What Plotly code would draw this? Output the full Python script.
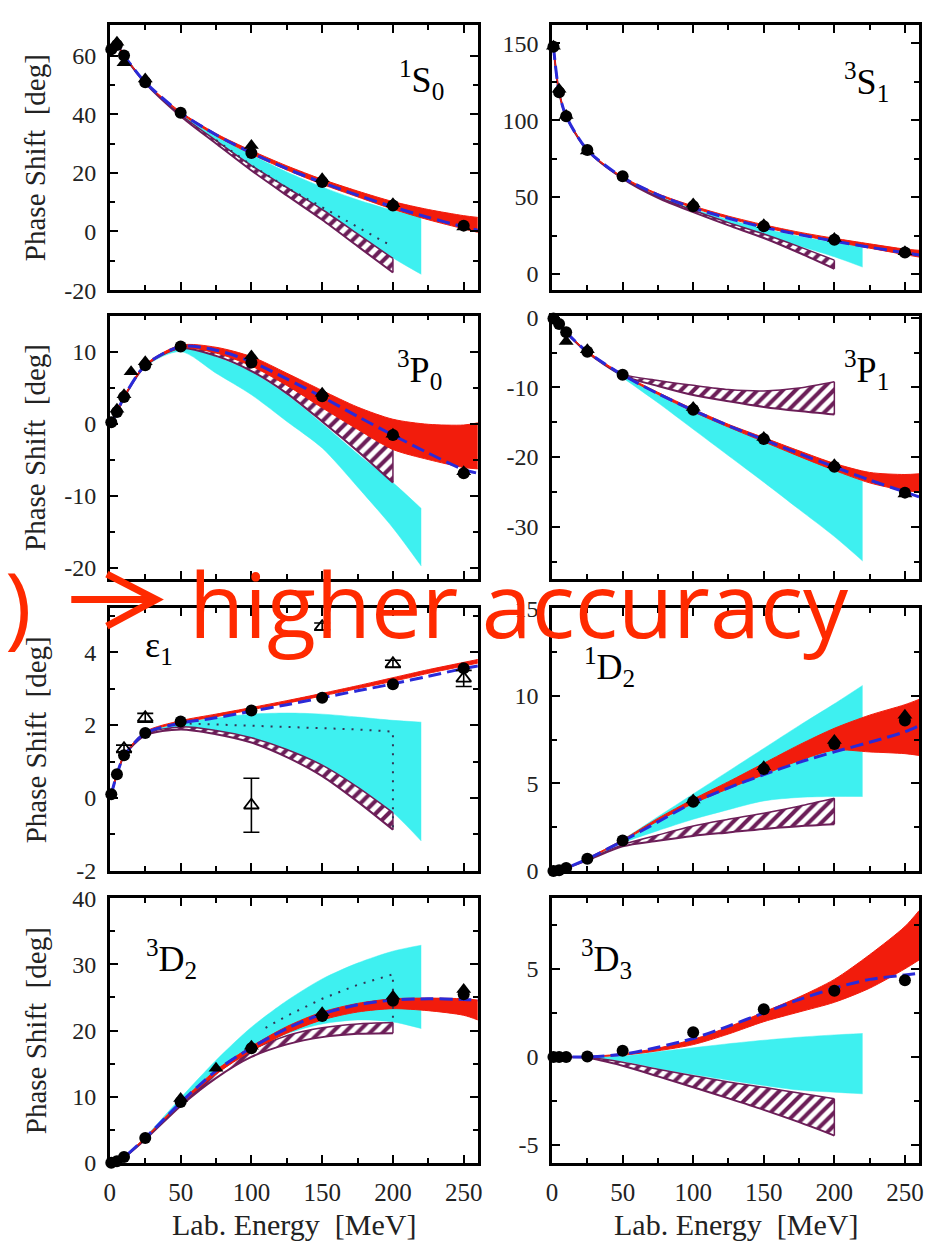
import plotly.graph_objects as go

W, H = 927, 1257

# ---------------------------------------------------------------- energies [MeV]
E_DATA = [1, 5, 10, 25, 50, 100, 150, 200, 250]
E_HATCH = [1, 5, 10, 25, 50, 75, 100, 125, 150, 175, 200]
E_CYAN = [1, 5, 10, 25, 50, 75, 100, 125, 150, 175, 200, 220]
E_RED = [1, 5, 10, 25, 50, 75, 100, 125, 150, 175, 200, 225, 250, 260]

X_TICKS = [0, 50, 100, 150, 200, 250]
X_TICK_TEXT = ["0", "50", "100", "150", "200", "250"]
X_MINOR = [25, 75, 125, 175, 225]

# ---------------------------------------------------------------- 1S0
S1S0_HATCH_LO = [62.1, 63.5, 59.9, 50.6, 39.3, 30.0, 20.8, 12.3, 4.0, -5.0, -14.0]
S1S0_HATCH_HI = [62.1, 63.6, 60.0, 50.8, 39.8, 31.0, 22.5, 15.0, 7.5, -0.8, -9.2]
S1S0_CYAN_LO = [62.1, 63.5, 59.9, 50.7, 39.6, 30.8, 22.4, 14.8, 7.2, -1.0, -9.0, -14.6]
S1S0_CYAN_HI = [62.1, 63.6, 60.0, 50.9, 40.3, 32.8, 26.2, 20.3, 15.2, 10.8, 7.2, 5.2]
S1S0_RED_LO = [62.0, 63.5, 59.9, 50.8, 40.3, 32.6, 26.4, 21.0, 16.1, 11.8, 7.6, 4.0, 0.9, -0.3]
S1S0_RED_HI = [62.2, 63.7, 60.1, 51.0, 40.8, 33.4, 27.6, 22.4, 17.8, 13.8, 10.2, 7.5, 5.4, 4.8]
S1S0_DASH = [62.1, 63.6, 60.0, 50.9, 40.5, 33.0, 26.8, 21.4, 16.7, 12.4, 8.4, 4.8, 1.6, 0.4]
S1S0_DOT_E = [75, 100, 125, 150, 175, 200]
S1S0_DOT = [31.2, 22.6, 15.0, 8.2, 1.6, -5.2]
S1S0_PTS = [62.1, 63.6, 60.0, 50.9, 40.5, 26.8, 16.9, 8.9, 2.0]
S1S0_TRI_E = [5, 10, 25, 100, 150, 200, 250]
S1S0_TRI = [64.5, 57.5, 52.0, 29.3, 18.0, 9.5, 1.5]

# ---------------------------------------------------------------- 3S1
S3S1_HATCH_LO = [147.5, 118.0, 102.4, 80.3, 62.0, 49.5, 40.2, 31.6, 23.4, 13.8, 3.4]
S3S1_HATCH_HI = [147.7, 118.2, 102.6, 80.6, 62.3, 50.2, 41.4, 33.4, 26.0, 17.8, 9.0]
S3S1_CYAN_LO = [147.5, 118.0, 102.4, 80.4, 62.2, 49.8, 40.5, 32.4, 25.2, 18.2, 11.2, 4.5]
S3S1_CYAN_HI = [147.7, 118.2, 102.6, 80.6, 62.6, 51.0, 42.4, 35.4, 29.6, 24.6, 20.5, 17.8]
S3S1_RED_LO = [147.5, 118.0, 102.4, 80.4, 62.6, 51.4, 43.0, 36.2, 30.4, 25.4, 21.0, 16.8, 12.6, 11.0]
S3S1_RED_HI = [147.9, 118.4, 102.8, 80.8, 63.2, 52.2, 44.2, 37.6, 32.0, 27.2, 23.2, 19.6, 16.2, 15.4]
S3S1_DASH = [147.7, 118.2, 102.6, 80.6, 62.8, 51.5, 43.0, 36.2, 30.4, 25.6, 21.4, 17.4, 13.8, 12.4]
S3S1_PTS = [147.7, 118.2, 102.6, 80.6, 63.5, 44.0, 31.0, 22.3, 14.0]
S3S1_TRI_E = [1, 5, 10, 25, 100, 150, 200, 250]
S3S1_TRI = [148.0, 120.0, 103.0, 80.0, 45.5, 32.0, 23.0, 14.5]

# ---------------------------------------------------------------- 3P0
S3P0_HATCH_LO = [0.1, 1.5, 3.6, 8.0, 10.5, 9.4, 7.3, 4.2, 0.3, -3.8, -8.2]
S3P0_HATCH_HI = [0.2, 1.6, 3.7, 8.1, 10.7, 10.0, 8.2, 6.0, 3.4, 0.0, -3.6]
S3P0_CYAN_LO = [0.1, 1.5, 3.6, 7.9, 10.0, 7.0, 4.0, 0.3, -3.4, -8.8, -14.5, -19.8]
S3P0_CYAN_HI = [0.2, 1.6, 3.7, 8.1, 10.6, 9.3, 7.2, 4.0, 0.0, -4.2, -8.2, -11.8]
S3P0_RED_LO = [0.1, 1.5, 3.6, 8.0, 10.5, 9.8, 8.0, 5.3, 2.2, -0.8, -3.6, -5.0, -6.1, -6.3]
S3P0_RED_HI = [0.3, 1.7, 3.8, 8.2, 10.9, 10.6, 9.3, 7.0, 4.6, 2.3, 0.6, -0.1, -0.2, 0.1]
S3P0_DASH = [0.2, 1.6, 3.7, 8.1, 10.7, 10.2, 8.6, 6.2, 3.7, 1.0, -1.6, -4.1, -6.4, -6.9]
S3P0_PTS = [0.18, 1.6, 3.7, 8.1, 10.7, 8.5, 3.8, -1.6, -6.9]
S3P0_TRI_E = [5, 10, 15, 25, 100, 150, 200, 250]
S3P0_TRI = [2.0, 4.0, 7.2, 8.6, 9.4, 4.2, -1.5, -6.7]

# ---------------------------------------------------------------- 3P1
S3P1_HATCH_LO = [-0.1, -0.9, -2.1, -5.0, -8.3, -9.8, -11.1, -12.0, -12.8, -13.4, -13.9]
S3P1_HATCH_HI = [-0.1, -0.9, -2.1, -4.9, -8.1, -9.0, -9.7, -10.3, -10.5, -10.1, -9.2]
S3P1_CYAN_LO = [-0.1, -0.9, -2.1, -5.0, -8.6, -12.2, -16.0, -19.8, -23.6, -27.5, -31.4, -34.9]
S3P1_CYAN_HI = [-0.1, -0.9, -2.1, -4.9, -8.3, -10.9, -13.4, -15.6, -17.7, -19.7, -21.7, -23.5]
S3P1_RED_LO = [-0.1, -0.9, -2.1, -5.0, -8.3, -11.0, -13.5, -15.7, -17.8, -19.9, -21.9, -23.7, -24.8, -25.0]
S3P1_RED_HI = [-0.1, -0.9, -2.1, -4.8, -8.1, -10.7, -13.1, -15.3, -17.2, -19.1, -20.9, -22.2, -22.5, -22.4]
S3P1_DASH = [-0.1, -0.9, -2.1, -4.9, -8.2, -10.9, -13.3, -15.5, -17.5, -19.5, -21.4, -23.3, -25.0, -25.7]
S3P1_PTS = [-0.1, -0.9, -2.1, -4.9, -8.2, -13.2, -17.4, -21.4, -25.1]
S3P1_TRI_E = [10, 25, 100, 150, 200, 250]
S3P1_TRI = [-3.4, -4.6, -12.9, -17.2, -21.1, -25.3]

# ---------------------------------------------------------------- epsilon_1
SE1_HATCH_LO = [0.1, 0.65, 1.15, 1.72, 1.88, 1.75, 1.52, 1.12, 0.6, -0.1, -0.87]
SE1_HATCH_HI = [0.1, 0.65, 1.15, 1.75, 1.95, 1.85, 1.65, 1.33, 0.9, 0.3, -0.4]
SE1_CYAN_LO = [0.1, 0.65, 1.15, 1.75, 1.95, 1.85, 1.65, 1.33, 0.9, 0.3, -0.4, -1.18]
SE1_CYAN_HI = [0.1, 0.65, 1.15, 1.78, 2.05, 2.2, 2.3, 2.33, 2.3, 2.22, 2.13, 2.08]
SE1_RED_LO = [0.1, 0.65, 1.15, 1.78, 2.07, 2.23, 2.42, 2.6, 2.8, 3.0, 3.2, 3.42, 3.62, 3.7]
SE1_RED_HI = [0.12, 0.68, 1.18, 1.82, 2.12, 2.3, 2.48, 2.67, 2.87, 3.08, 3.3, 3.52, 3.72, 3.8]
SE1_DASH = [0.1, 0.65, 1.15, 1.78, 2.05, 2.2, 2.38, 2.56, 2.75, 2.94, 3.13, 3.34, 3.55, 3.62]
SE1_DOT_E = [50, 75, 100, 125, 150, 175, 200, 200]
SE1_DOT = [2.05, 2.02, 1.98, 1.95, 1.92, 1.88, 1.82, -0.8]
SE1_PTS = [0.1, 0.65, 1.17, 1.78, 2.1, 2.4, 2.75, 3.12, 3.56]
SE1_TRI_E = [10, 25, 100, 150, 200, 250]
SE1_TRI = [1.35, 2.2, -0.2, 4.7, 3.68, 3.28]
SE1_TRI_ERR = [0.1, 0.12, 0.74, 0.1, 0.1, 0.22]

# ---------------------------------------------------------------- 1D2
S1D2_HATCH_LO = [0.0, 0.04, 0.16, 0.6, 1.4, 1.72, 2.0, 2.2, 2.4, 2.55, 2.66]
S1D2_HATCH_HI = [0.0, 0.04, 0.16, 0.65, 1.5, 2.05, 2.57, 2.95, 3.3, 3.7, 4.15]
S1D2_CYAN_LO = [0.0, 0.04, 0.16, 0.66, 1.6, 2.3, 2.95, 3.5, 4.0, 4.2, 4.25, 4.25]
S1D2_CYAN_HI = [0.0, 0.04, 0.16, 0.7, 1.8, 3.1, 4.4, 5.7, 7.0, 8.3, 9.55, 10.6]
S1D2_RED_LO = [0.0, 0.04, 0.16, 0.68, 1.7, 2.85, 3.85, 4.7, 5.5, 6.3, 6.9, 6.8, 6.7, 6.6]
S1D2_RED_HI = [0.0, 0.05, 0.17, 0.72, 1.78, 3.0, 4.1, 5.1, 6.15, 7.2, 8.15, 8.9, 9.5, 9.8]
S1D2_DASH = [0.0, 0.04, 0.16, 0.68, 1.7, 2.8, 3.9, 4.75, 5.5, 6.2, 6.8, 7.35, 7.95, 8.3]
S1D2_PTS = [0.0, 0.04, 0.16, 0.7, 1.73, 3.95, 5.82, 7.25, 8.6]
S1D2_TRI_E = [100, 150, 200, 250]
S1D2_TRI = [4.05, 5.95, 7.45, 8.9]

# ---------------------------------------------------------------- 3D2
S3D2_HATCH_LO = [0.0, 0.18, 0.78, 3.5, 8.6, 12.8, 16.0, 17.9, 19.0, 19.5, 19.6]
S3D2_HATCH_HI = [0.0, 0.2, 0.82, 3.6, 9.0, 13.5, 17.0, 19.2, 20.4, 21.0, 21.2]
S3D2_CYAN_LO = [0.0, 0.2, 0.82, 3.6, 8.9, 13.6, 17.0, 19.5, 21.0, 21.6, 21.3, 20.3]
S3D2_CYAN_HI = [0.0, 0.22, 0.86, 3.9, 9.8, 15.5, 20.5, 24.5, 27.8, 30.2, 32.0, 32.9]
S3D2_RED_LO = [0.0, 0.2, 0.82, 3.65, 8.9, 13.4, 16.9, 19.6, 21.6, 22.8, 23.3, 23.0, 22.3, 21.6]
S3D2_RED_HI = [0.01, 0.24, 0.88, 3.85, 9.2, 14.0, 17.6, 20.6, 22.8, 24.1, 24.8, 24.9, 24.8, 24.6]
S3D2_DASH = [0.0, 0.22, 0.85, 3.75, 9.1, 13.9, 17.4, 20.3, 22.5, 23.9, 24.6, 24.8, 24.7, 24.6]
S3D2_DOT_E = [110, 125, 150, 175, 200, 200]
S3D2_DOT = [20.4, 22.2, 24.8, 26.9, 28.5, 21.5]
S3D2_PTS = [0.006, 0.22, 0.85, 3.75, 9.2, 17.3, 22.2, 24.5, 25.5]
S3D2_TRI_E = [50, 75, 100, 150, 200, 250]
S3D2_TRI = [9.7, 14.3, 17.6, 22.7, 25.2, 26.2]

# ---------------------------------------------------------------- 3D3
S3D3_HATCH_LO = [0.0, 0.0, 0.0, -0.05, -0.5, -1.1, -1.72, -2.35, -3.0, -3.7, -4.46]
S3D3_HATCH_HI = [0.0, 0.0, 0.0, -0.02, -0.3, -0.7, -1.07, -1.42, -1.72, -2.05, -2.37]
S3D3_CYAN_LO = [0.0, 0.0, 0.0, -0.02, -0.25, -0.65, -1.0, -1.32, -1.62, -1.88, -2.0, -2.09]
S3D3_CYAN_HI = [0.0, 0.0, 0.0, 0.0, 0.05, 0.3, 0.52, 0.75, 0.95, 1.12, 1.25, 1.33]
S3D3_RED_LO = [0.0, 0.0, 0.0, 0.0, 0.1, 0.35, 0.7, 1.3, 2.0, 2.55, 3.1, 3.9, 5.0, 5.5]
S3D3_RED_HI = [0.0, 0.0, 0.0, 0.02, 0.18, 0.5, 1.0, 1.7, 2.55, 3.4, 4.4, 5.8, 7.4, 8.3]
S3D3_DASH = [0.0, 0.0, 0.0, 0.0, 0.15, 0.55, 1.05, 1.75, 2.5, 3.25, 3.9, 4.4, 4.65, 4.75]
S3D3_PTS = [0.0, 0.0, 0.0, 0.03, 0.35, 1.4, 2.7, 3.75, 4.35]

# ---------------------------------------------------------------- y axes
Y_RANGES = [[-20, 70.5], [-10.5, 162], [-21.6, 15], [-37.5, 0.3],
            [-2, 5.2], [0, 15], [0, 40], [-6, 9]]
Y_TICKS = [[-20, 0, 20, 40, 60], [0, 50, 100, 150], [-20, -10, 0, 10], [-30, -20, -10, 0],
           [-2, 0, 2, 4], [0, 5, 10, 15], [0, 10, 20, 30, 40], [-5, 0, 5]]
Y_TICK_TEXT = [["-20", "0", "20", "40", "60"], ["0", "50", "100", "150"],
               ["-20", "-10", "0", "10"], ["-30", "-20", "-10", "0"],
               ["-2", "0", "2", "4"], ["0", "5", "10", "15"],
               ["0", "10", "20", "30", "40"], ["-5", "0", "5"]]
Y_MINOR = [[-10, 10, 30, 50], [25, 75, 125], [-15, -5, 5], [-35, -25, -15, -5],
           [-1, 1, 3, 5], [2.5, 7.5, 12.5], [5, 15, 25, 35], [-2.5, 2.5, 7.5]]

PANEL_LABELS = ["<sup>1</sup>S<sub>0</sub>", "<sup>3</sup>S<sub>1</sub>",
                "<sup>3</sup>P<sub>0</sub>", "<sup>3</sup>P<sub>1</sub>",
                "ε<sub>1</sub>", "<sup>1</sup>D<sub>2</sub>",
                "<sup>3</sup>D<sub>2</sub>", "<sup>3</sup>D<sub>3</sub>"]
# label anchor (left edge, vertical centre) in pixels
LABEL_POS = [(395, 68), (845, 70), (393, 365), (845, 365),
             (138, 648), (582, 668), (139, 966), (579, 966)]

PANELS = [
    dict(hatch=(S1S0_HATCH_LO, S1S0_HATCH_HI), cyan=(S1S0_CYAN_LO, S1S0_CYAN_HI),
         red=(S1S0_RED_LO, S1S0_RED_HI), dash=S1S0_DASH, dot=(S1S0_DOT_E, S1S0_DOT),
         pts=S1S0_PTS, tri=(S1S0_TRI_E, S1S0_TRI, None)),
    dict(hatch=(S3S1_HATCH_LO, S3S1_HATCH_HI), cyan=(S3S1_CYAN_LO, S3S1_CYAN_HI),
         red=(S3S1_RED_LO, S3S1_RED_HI), dash=S3S1_DASH, dot=None,
         pts=S3S1_PTS, tri=(S3S1_TRI_E, S3S1_TRI, None)),
    dict(hatch=(S3P0_HATCH_LO, S3P0_HATCH_HI), cyan=(S3P0_CYAN_LO, S3P0_CYAN_HI),
         red=(S3P0_RED_LO, S3P0_RED_HI), dash=S3P0_DASH, dot=None,
         pts=S3P0_PTS, tri=(S3P0_TRI_E, S3P0_TRI, None)),
    dict(hatch=(S3P1_HATCH_LO, S3P1_HATCH_HI), cyan=(S3P1_CYAN_LO, S3P1_CYAN_HI),
         red=(S3P1_RED_LO, S3P1_RED_HI), dash=S3P1_DASH, dot=None,
         pts=S3P1_PTS, tri=(S3P1_TRI_E, S3P1_TRI, None)),
    dict(hatch=(SE1_HATCH_LO, SE1_HATCH_HI), cyan=(SE1_CYAN_LO, SE1_CYAN_HI),
         red=(SE1_RED_LO, SE1_RED_HI), dash=SE1_DASH, dot=(SE1_DOT_E, SE1_DOT),
         pts=SE1_PTS, tri=(SE1_TRI_E, SE1_TRI, SE1_TRI_ERR)),
    dict(hatch=(S1D2_HATCH_LO, S1D2_HATCH_HI), cyan=(S1D2_CYAN_LO, S1D2_CYAN_HI),
         red=(S1D2_RED_LO, S1D2_RED_HI), dash=S1D2_DASH, dot=None,
         pts=S1D2_PTS, tri=(S1D2_TRI_E, S1D2_TRI, None)),
    dict(hatch=(S3D2_HATCH_LO, S3D2_HATCH_HI), cyan=(S3D2_CYAN_LO, S3D2_CYAN_HI),
         red=(S3D2_RED_LO, S3D2_RED_HI), dash=S3D2_DASH, dot=(S3D2_DOT_E, S3D2_DOT),
         pts=S3D2_PTS, tri=(S3D2_TRI_E, S3D2_TRI, None)),
    dict(hatch=(S3D3_HATCH_LO, S3D3_HATCH_HI), cyan=(S3D3_CYAN_LO, S3D3_CYAN_HI),
         red=(S3D3_RED_LO, S3D3_RED_HI), dash=S3D3_DASH, dot=None,
         pts=S3D3_PTS, tri=None),
]

# ---------------------------------------------------------------- styling
CYAN = "#3ef0f0"
RED = "#f21c0c"
PURPLE = "#6c1e58"
BLUE = "#2a2ad8"
TEXT_RED = "#ff2a00"
SERIF = "Liberation Serif, Times New Roman, serif"

COLS = [(105, 477), (552, 923)]          # plot-area x extents (px)
ROWS = [(12, 283), (309, 578), (608, 876), (904, 1174)]  # plot-area y extents (px)


def px(x):
    return x / W


def py(y):
    return 1 - y / H


fig = go.Figure()


def spline_line(color, width):
    return dict(color=color, width=width, shape="spline", smoothing=0.8)


for i, p in enumerate(PANELS):
    xa = "x" if i == 0 else f"x{i + 1}"
    ya = "y" if i == 0 else f"y{i + 1}"
    common = dict(xaxis=xa, yaxis=ya, showlegend=False, hoverinfo="skip")

    # cyan band
    lo, hi = p["cyan"]
    fig.add_trace(go.Scatter(x=E_CYAN, y=lo, mode="lines", line=spline_line(CYAN, 0.5), **common))
    fig.add_trace(go.Scatter(x=E_CYAN, y=hi, mode="lines", line=spline_line(CYAN, 0.5),
                             fill="tonexty", fillcolor=CYAN, **common))

    # hatched band
    lo, hi = p["hatch"]
    fig.add_trace(go.Scatter(x=E_HATCH, y=lo, mode="lines", line=spline_line(PURPLE, 2), **common))
    fig.add_trace(go.Scatter(x=E_HATCH, y=hi, mode="lines", line=spline_line(PURPLE, 1.5),
                             fill="tonexty", fillcolor="white",
                             fillpattern=dict(shape="/", fgcolor=PURPLE, bgcolor="white",
                                              size=9, solidity=0.45, fillmode="replace"),
                             **common))
    fig.add_trace(go.Scatter(x=[E_HATCH[-1], E_HATCH[-1]], y=[lo[-1], hi[-1]], mode="lines",
                             line=dict(color=PURPLE, width=1.5), **common))

    # red band
    lo, hi = p["red"]
    fig.add_trace(go.Scatter(x=E_RED, y=lo, mode="lines", line=spline_line(RED, 1), **common))
    fig.add_trace(go.Scatter(x=E_RED, y=hi, mode="lines", line=spline_line(RED, 1),
                             fill="tonexty", fillcolor=RED, **common))

    # dotted curve
    if p["dot"] is not None:
        de, dv = p["dot"]
        fig.add_trace(go.Scatter(x=de, y=dv, mode="lines",
                                 line=dict(color="#333355", width=2, dash="2px,7px"), **common))

    # dashed curve
    fig.add_trace(go.Scatter(x=E_RED, y=p["dash"], mode="lines",
                             line=dict(color=BLUE, width=3, dash="13px,6px",
                                       shape="spline", smoothing=0.8), **common))

    # triangles
    if p["tri"] is not None:
        te, tv, terr = p["tri"]
        if terr is None:
            fig.add_trace(go.Scatter(x=te, y=tv, mode="markers", cliponaxis=False,
                                     marker=dict(symbol="triangle-up", size=13, color="black"),
                                     **common))
        else:
            fig.add_trace(go.Scatter(x=te, y=tv, mode="markers", cliponaxis=False,
                                     marker=dict(symbol="triangle-up-open", size=13, color="black",
                                                 line=dict(width=1.8, color="black")),
                                     error_y=dict(type="data", array=terr, visible=True,
                                                  color="black", thickness=1.6, width=8),
                                     **common))

    # circles
    fig.add_trace(go.Scatter(x=E_DATA, y=p["pts"], mode="markers", cliponaxis=False,
                             marker=dict(symbol="circle", size=12, color="black"), **common))

layout = dict(width=W, height=H, autosize=False,
              margin=dict(l=0, r=0, t=0, b=0),
              paper_bgcolor="white", plot_bgcolor="white", showlegend=False)

tick_common = dict(ticks="inside", ticklen=8, tickwidth=2, tickcolor="black",
                   showline=True, linewidth=2.5, linecolor="black", mirror="allticks",
                   showgrid=False, zeroline=False, tickmode="array", ticklabelstandoff=6)

for i in range(8):
    r, c = divmod(i, 2)
    x0, x1 = COLS[c]
    y0, y1 = ROWS[r]
    xk = "xaxis" if i == 0 else f"xaxis{i + 1}"
    yk = "yaxis" if i == 0 else f"yaxis{i + 1}"
    layout[xk] = dict(domain=[px(x0), px(x1)], range=[0, 260],
                      anchor="y" if i == 0 else f"y{i + 1}",
                      tickvals=X_TICKS, ticktext=X_TICK_TEXT, showticklabels=(r == 3),
                      tickfont=dict(family=SERIF, size=25, color="#222"),
                      minor=dict(tickmode="array", tickvals=X_MINOR, ticks="inside",
                                 ticklen=5, tickwidth=2, tickcolor="black", showgrid=False),
                      **tick_common)
    layout[yk] = dict(domain=[py(y1), py(y0)], range=Y_RANGES[i],
                      anchor="x" if i == 0 else f"x{i + 1}",
                      tickvals=Y_TICKS[i], ticktext=Y_TICK_TEXT[i],
                      tickfont=dict(family=SERIF, size=24, color="#222"),
                      minor=dict(tickmode="array", tickvals=Y_MINOR[i], ticks="inside",
                                 ticklen=5, tickwidth=2, tickcolor="black", showgrid=False),
                      **tick_common)

annotations = []

# partial-wave labels
for (lx, ly), txt in zip(LABEL_POS, PANEL_LABELS):
    annotations.append(dict(x=px(lx), y=py(ly), xref="paper", yref="paper", text=txt,
                            showarrow=False, xanchor="left", yanchor="middle",
                            font=dict(family=SERIF, size=36, color="black")))

# axis titles
for y0, y1 in ROWS:
    annotations.append(dict(x=px(30), y=py((y0 + y1) / 2), xref="paper", yref="paper",
                            text="Phase Shift\u00a0\u00a0[deg]", textangle=-90, showarrow=False,
                            xanchor="center", yanchor="middle",
                            font=dict(family=SERIF, size=29, color="#222")))
for x0, x1 in COLS:
    annotations.append(dict(x=px((x0 + x1) / 2), y=py(1237), xref="paper", yref="paper",
                            text="Lab. Energy\u00a0\u00a0[MeV]", showarrow=False,
                            xanchor="center", yanchor="middle",
                            font=dict(family=SERIF, size=30, color="#222")))

# red overlay caption
annotations.append(dict(x=px(28), y=py(667), xref="paper", yref="paper", text=")",
                        showarrow=False, xanchor="right", yanchor="bottom",
                        font=dict(family="Open Sans", size=90, color=TEXT_RED)))
annotations.append(dict(x=px(183), y=py(667), xref="paper", yref="paper",
                        text="higher accuracy", showarrow=False,
                        xanchor="left", yanchor="bottom",
                        font=dict(family="Open Sans", size=90, color=TEXT_RED)))
layout["annotations"] = annotations

# arrow drawn as shaft + open chevron head
shapes = [
    dict(type="line", xref="paper", yref="paper",
         x0=px(66), y0=py(599), x1=px(146), y1=py(599),
         line=dict(color=TEXT_RED, width=7)),
    dict(type="path", xref="paper", yref="paper",
         path=f"M {px(102)} {py(573)} L {px(152)} {py(599)} L {px(102)} {py(626)}",
         line=dict(color=TEXT_RED, width=7)),
]
layout["shapes"] = shapes

fig.update_layout(**layout)
fig.write_html("out.html")
